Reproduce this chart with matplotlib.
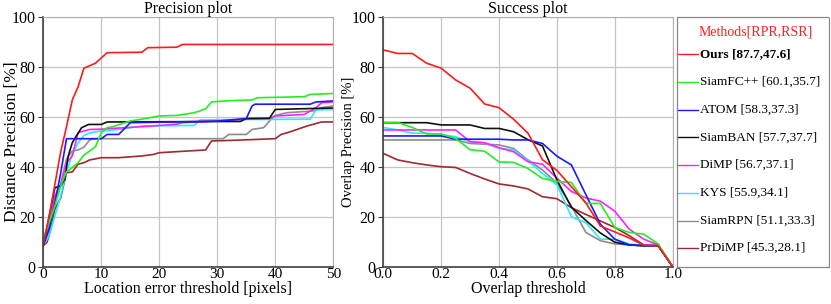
import numpy as np
import matplotlib
matplotlib.use("Agg")
import matplotlib.pyplot as plt

plt.rcParams['font.family'] = ['Liberation Serif', 'DejaVu Serif']

# Method names, colours and scores shown in the legend
methods = ['Ours', 'SiamFC++', 'ATOM', 'SiamBAN', 'DiMP', 'KYS', 'SiamRPN', 'PrDiMP']
colors = ['#ff1a1a', '#22ee22', '#1a1aff', '#111111', '#ff22ff', '#22eeff', '#8c8c8c', '#9e2a2f']
rpr = [87.7, 60.1, 58.3, 57.7, 56.7, 55.9, 51.1, 45.3]
rsr = [47.6, 35.7, 37.3, 37.7, 37.1, 34.1, 33.3, 28.1]

# Precision plot: location error threshold (px) -> distance precision (%)
prec_x = {
    'Ours': [0, 1, 2, 3, 4, 5, 6, 7, 8, 9, 10, 11, 17, 18, 23, 24, 50],
    'SiamFC++': [0, 1, 2, 3, 4, 5, 6, 7, 8, 9, 10, 11, 12, 15, 17, 20, 23, 26, 27, 28, 29, 32, 36, 37, 45, 46, 50],
    'ATOM': [0, 1, 2, 3, 4, 10, 11, 13, 15, 30, 35, 36, 36.5, 46, 47, 50],
    'SiamBAN': [0, 1, 2, 3, 3.7, 4.3, 5, 5.7, 6.6, 7.8, 10, 11, 34, 35, 39, 40, 50],
    'DiMP': [0, 1, 2, 3, 4, 5, 6, 7, 8, 10, 11, 17, 23, 24, 30, 35, 39, 40, 45, 47, 48, 50],
    'KYS': [0, 1, 2, 3, 4, 5, 6, 7, 8, 10, 13, 15, 17, 26, 27, 34, 39, 46, 47, 50],
    'SiamRPN': [0, 1, 2, 3, 4, 5, 6, 7, 8, 9, 17, 31, 32, 35, 36, 38, 39, 40, 42, 46.6, 48, 50],
    'PrDiMP': [0, 0.6, 1, 2, 3, 4, 5, 6, 7, 8, 10, 13, 17, 19, 20, 28, 29, 32, 40, 41, 42.5, 45.5, 48, 50],
}
prec_y = {
    'Ours': [9, 20, 33, 46, 56, 66.7, 72, 79.4, 80.4, 81.4, 83.5, 85.6, 85.8, 87.6, 87.8, 88.9, 88.9],
    'SiamFC++': [11.6, 17.6, 24.3, 32.3, 38, 39.6, 41.6, 44.6, 46.3, 48, 53.6, 55.6, 56, 58.3, 59, 60.3, 60.5, 61.6, 62.3, 63.2, 65.9, 66.4, 66.7, 67.6, 68, 68.9, 69.3],
    'ATOM': [8.5, 15, 25.6, 37.5, 51.2, 51.2, 52.9, 52.9, 57.6, 58.2, 59.3, 64.3, 65, 65, 65.9, 66.3],
    'SiamBAN': [8.5, 20, 31.6, 32.3, 35, 44.3, 49.6, 52.3, 55.6, 56.9, 56.9, 57.9, 58.1, 59.3, 59.4, 62.9, 63.5],
    'DiMP': [8.5, 16, 28.3, 33, 41.6, 44.3, 53.6, 54.3, 54.9, 55, 55.2, 56, 57, 57.6, 58.3, 59, 59.2, 60.3, 60.9, 63.6, 65.6, 65.9],
    'KYS': [8.5, 12.3, 20.3, 28.3, 38, 45, 49.5, 52.5, 53.5, 54.3, 54.9, 55.6, 56.3, 56.5, 58.7, 58.9, 58.9, 59, 62.7, 62.9],
    'SiamRPN': [8.5, 15, 27, 33, 43, 46.3, 46.7, 47.8, 50.7, 51.2, 51.2, 51.2, 52.9, 52.9, 54.9, 55.6, 58.3, 60.5, 61.6, 62.3, 63.6, 64.3],
    'PrDiMP': [8.5, 9.6, 12.3, 23, 27.6, 37.6, 37.9, 41, 41.6, 42.7, 43.6, 43.6, 44.3, 44.9, 45.6, 46.7, 50.3, 50.5, 51.2, 52.9, 53.9, 56.3, 57.9, 57.9],
}

# Success plot: overlap threshold -> overlap precision (%)
overlap_thr = [0.0, 0.05, 0.1, 0.15, 0.2, 0.25, 0.3, 0.35, 0.4, 0.45, 0.5,
               0.55, 0.6, 0.65, 0.7, 0.75, 0.8, 0.85, 0.9, 0.95, 1.0]
succ_y = {
    'Ours': [86.7, 85.3, 85.3, 81.4, 79.4, 74.7, 71.4, 65.1, 63.6, 59.0, 53.4, 42.8, 38.5, 32.0, 25.5, 16.3, 13.9, 11.5, 8.6, 8.4, 0],
    'SiamFC++': [57.7, 57.7, 55.7, 53.1, 53.1, 51.3, 46.8, 46.2, 41.9, 41.7, 39.3, 35.3, 34.1, 33.7, 25.3, 25.3, 15.7, 13.7, 13.0, 9.1, 0],
    'ATOM': [52.3, 52.3, 52.3, 52.3, 52.3, 51.0, 51.0, 51.0, 51.0, 50.7, 50.7, 49.3, 44.2, 40.7, 28.8, 17.0, 11.0, 8.7, 8.4, 8.4, 0],
    'SiamBAN': [57.6, 57.6, 57.6, 57.6, 56.7, 56.7, 56.7, 55.3, 55.3, 54.0, 50.8, 48.3, 34.7, 23.8, 18.5, 13.5, 9.8, 8.7, 8.4, 8.4, 0],
    'DiMP': [54.7, 54.7, 54.7, 54.7, 54.7, 54.7, 50.0, 49.6, 47.6, 46.0, 42.0, 41.0, 35.4, 30.1, 27.5, 26.2, 22.2, 15.0, 11.0, 8.7, 0],
    'KYS': [55.7, 54.7, 53.4, 53.4, 52.7, 52.0, 50.0, 49.5, 47.3, 46.7, 42.4, 37.3, 32.8, 20.0, 17.6, 11.0, 11.0, 9.1, 8.4, 8.4, 0],
    'SiamRPN': [50.7, 50.7, 50.7, 50.7, 50.7, 50.7, 49.3, 49.0, 48.7, 47.3, 42.7, 38.7, 33.4, 24.2, 13.7, 10.4, 9.1, 8.7, 8.4, 8.4, 0],
    'PrDiMP': [45.3, 42.7, 41.6, 40.7, 40.0, 39.7, 37.3, 35.1, 33.1, 32.3, 31.1, 28.0, 27.2, 23.6, 20.9, 18.3, 15.7, 12.4, 8.7, 8.4, 0],
}

W, H = 831, 304
fig = plt.figure(figsize=(W / 100, H / 100), dpi=100)

def px_rect(x0, y0, x1, y1):
    # pixel box (top-left origin) -> figure fraction rect
    return [x0 / W, 1 - y1 / H, (x1 - x0) / W, (y1 - y0) / H]

ax1 = fig.add_axes(px_rect(43.3, 16.7, 333.3, 266.7))
ax2 = fig.add_axes(px_rect(383.3, 16.7, 672.7, 266.7))
axl = fig.add_axes(px_rect(676.7, 17.3, 829.0, 266.7))

def style_axes(ax):
    ax.grid(True, color='#c4c4c4', linewidth=0.9)
    ax.set_axisbelow(True)
    for s in ['top', 'right']:
        ax.spines[s].set_color('#b0b0b0')
    for s in ['left', 'bottom']:
        ax.spines[s].set_color('#404040')
        ax.spines[s].set_linewidth(1.2)
    ax.tick_params(axis='y', labelsize=11.5, length=3.5, width=0.8,
                   color='#404040', pad=2)
    ax.tick_params(axis='x', labelsize=11, length=0, pad=1)
    ax.set_ylim(0, 100)
    ax.set_yticks([0, 20, 40, 60, 80, 100])

# draw in reverse order so 'Ours' sits on top
for i in reversed(range(len(methods))):
    m = methods[i]
    ax1.plot(prec_x[m], prec_y[m], color=colors[i], lw=1.2)
    ax2.plot(overlap_thr, succ_y[m], color=colors[i], lw=1.2)

style_axes(ax1)
ax1.set_xlim(0, 50)
ax1.set_xticks([0, 10, 20, 30, 40, 50])
ax1.set_title('Precision plot', fontsize=11.5, pad=1)
ax1.set_xlabel('Location error threshold [pixels]', fontsize=11.5)
ax1.set_ylabel('Distance Precision [%]', fontsize=12.5)
ax1.xaxis.set_label_coords(0.5, -0.058)
ax1.yaxis.set_label_coords(-0.079, 0.5)

style_axes(ax2)
ax2.set_xlim(0, 1)
ax2.set_xticks([0, 0.2, 0.4, 0.6, 0.8, 1.0])
ax2.set_xticklabels(['0.0', '0.2', '0.4', '0.6', '0.8', '1.0'])
ax2.set_title('Success plot', fontsize=11.5, pad=1)
ax2.set_xlabel('Overlap threshold', fontsize=11.5)
ax2.set_ylabel('Overlap Precision [%]', fontsize=10.5)
ax2.xaxis.set_label_coords(0.5, -0.058)
ax2.yaxis.set_label_coords(-0.097, 0.5)

# legend box
axl.set_xlim(0, 1)
axl.set_ylim(266.7, 17.3)
axl.set_xticks([])
axl.set_yticks([])
for s in axl.spines.values():
    s.set_linestyle((0, (1, 1)))
    s.set_color('#888888')
    s.set_linewidth(0.9)
axl.text(0.52, 31.7, 'Methods[RPR,RSR]', color='#ff2020', fontsize=10,
         ha='center', va='center')
for i, m in enumerate(methods):
    yy = 54.3 + i * 27.7
    axl.plot([0, 0.14], [yy, yy], color=colors[i], lw=1.0, clip_on=False)
    axl.text(0.155, yy, f'{m} [{rpr[i]},{rsr[i]}]', fontsize=9.5,
             ha='left', va='center', fontweight='bold' if i == 0 else 'normal')

fig.savefig('out.png', dpi=100)
